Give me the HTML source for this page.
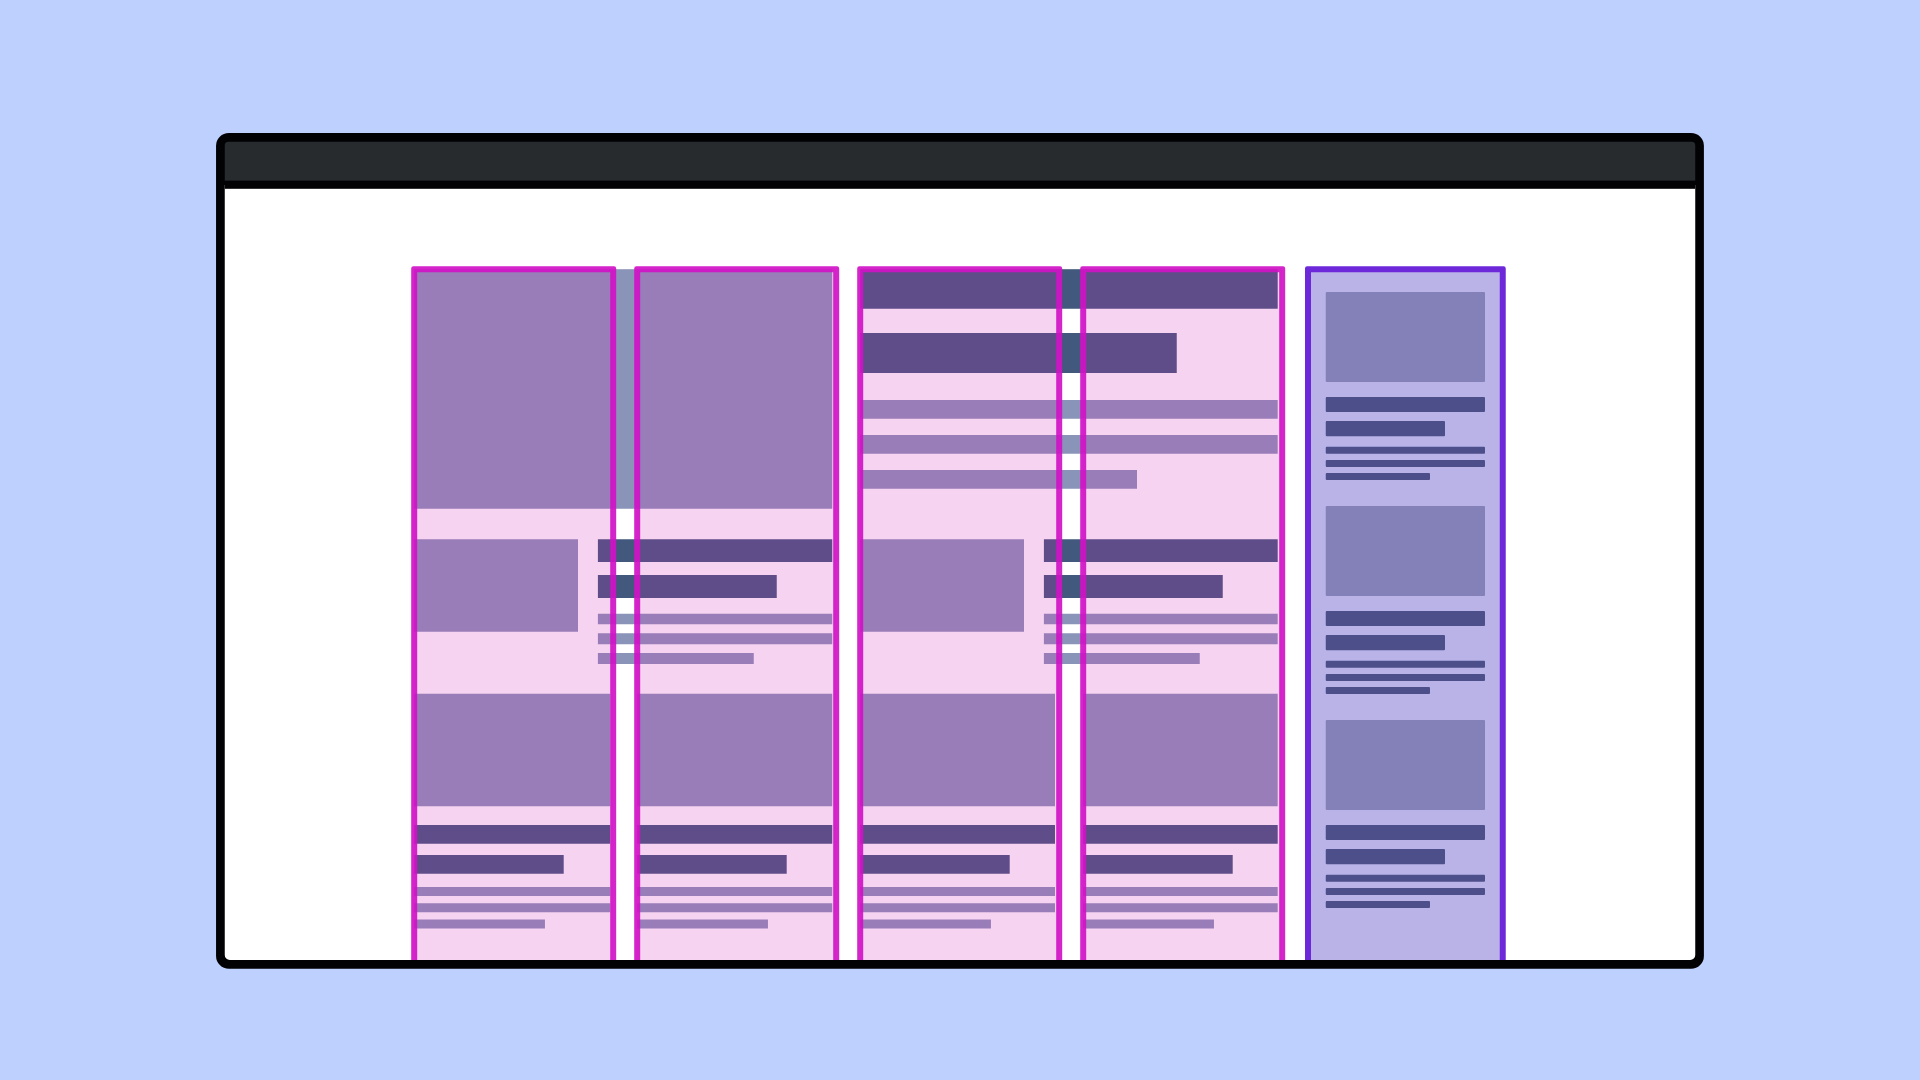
<!DOCTYPE html>
<html lang="en"><head><meta charset="utf-8"><title>Grid columns illustration</title>
<style>
html,body{margin:0;padding:0;width:1920px;height:1080px;overflow:hidden;background:#bed0fd;font-family:"Liberation Sans",sans-serif}
svg{display:block;position:absolute;left:0;top:0}
</style></head><body>
<svg width="1920" height="1080" viewBox="0 0 1920 1080">
<!-- browser window frame -->
<rect x="216.05" y="133" width="1487.85" height="835.75" rx="12.8" fill="#020205"/>
<clipPath id="inner"><path d="M224.75 145.2 a3.5 3.5 0 0 1 3.5 -3.5 H1691.75 a3.5 3.5 0 0 1 3.5 3.5 V955.05 a5 5 0 0 1 -5 5 H229.75 a5 5 0 0 1 -5 -5 Z"/></clipPath>
<g clip-path="url(#inner)">
<rect x="220" y="185" width="1480" height="780" fill="#fff"/>
<rect x="220" y="138" width="1480" height="42.8" fill="#272b2e"/>
<rect x="220" y="180.8" width="1480" height="8" fill="#020205"/>
<!-- row 1: hero image + headline block -->
<rect x="414.20" y="269.20" width="418.10" height="239.55" fill="#8a94b8"/>
<rect x="860.20" y="269.20" width="417.50" height="39.55" fill="#42587c"/>
<rect x="860.20" y="333.00" width="316.55" height="40.00" fill="#42587c"/>
<rect x="860.20" y="400.00" width="417.50" height="18.75" fill="#8a94b8"/>
<rect x="860.20" y="435.00" width="417.50" height="18.75" fill="#8a94b8"/>
<rect x="860.20" y="470.00" width="276.80" height="18.75" fill="#8a94b8"/>
<!-- row 2: two media items -->
<rect x="414.20" y="539.25" width="163.80" height="92.50" fill="#8a94b8"/>
<rect x="597.90" y="539.25" width="234.40" height="22.75" fill="#42587c"/>
<rect x="597.90" y="575.00" width="178.85" height="23.00" fill="#42587c"/>
<rect x="597.90" y="613.75" width="234.40" height="10.50" fill="#8a94b8"/>
<rect x="597.90" y="633.25" width="234.40" height="11.00" fill="#8a94b8"/>
<rect x="597.90" y="653.00" width="155.85" height="11.00" fill="#8a94b8"/>
<rect x="860.20" y="539.25" width="163.80" height="92.50" fill="#8a94b8"/>
<rect x="1043.90" y="539.25" width="233.80" height="22.75" fill="#42587c"/>
<rect x="1043.90" y="575.00" width="178.85" height="23.00" fill="#42587c"/>
<rect x="1043.90" y="613.75" width="233.80" height="10.50" fill="#8a94b8"/>
<rect x="1043.90" y="633.25" width="233.80" height="11.00" fill="#8a94b8"/>
<rect x="1043.90" y="653.00" width="155.85" height="11.00" fill="#8a94b8"/>
<!-- row 3: four cards -->
<rect x="414.20" y="693.75" width="196.10" height="112.50" fill="#8a94b8"/>
<rect x="414.20" y="825.00" width="196.10" height="18.75" fill="#42587c"/>
<rect x="414.20" y="855.00" width="149.50" height="18.75" fill="#42587c"/>
<rect x="414.20" y="887.00" width="196.10" height="9.00" fill="#8a94b8"/>
<rect x="414.20" y="903.25" width="196.10" height="9.00" fill="#8a94b8"/>
<rect x="414.20" y="919.50" width="130.75" height="9.00" fill="#8a94b8"/>
<rect x="637.20" y="693.75" width="195.10" height="112.50" fill="#8a94b8"/>
<rect x="637.20" y="825.00" width="195.10" height="18.75" fill="#42587c"/>
<rect x="637.20" y="855.00" width="149.50" height="18.75" fill="#42587c"/>
<rect x="637.20" y="887.00" width="195.10" height="9.00" fill="#8a94b8"/>
<rect x="637.20" y="903.25" width="195.10" height="9.00" fill="#8a94b8"/>
<rect x="637.20" y="919.50" width="130.75" height="9.00" fill="#8a94b8"/>
<rect x="860.20" y="693.75" width="194.80" height="112.50" fill="#8a94b8"/>
<rect x="860.20" y="825.00" width="194.80" height="18.75" fill="#42587c"/>
<rect x="860.20" y="855.00" width="149.50" height="18.75" fill="#42587c"/>
<rect x="860.20" y="887.00" width="194.80" height="9.00" fill="#8a94b8"/>
<rect x="860.20" y="903.25" width="194.80" height="9.00" fill="#8a94b8"/>
<rect x="860.20" y="919.50" width="130.75" height="9.00" fill="#8a94b8"/>
<rect x="1083.20" y="693.75" width="194.50" height="112.50" fill="#8a94b8"/>
<rect x="1083.20" y="825.00" width="194.50" height="18.75" fill="#42587c"/>
<rect x="1083.20" y="855.00" width="149.50" height="18.75" fill="#42587c"/>
<rect x="1083.20" y="887.00" width="194.50" height="9.00" fill="#8a94b8"/>
<rect x="1083.20" y="903.25" width="194.50" height="9.00" fill="#8a94b8"/>
<rect x="1083.20" y="919.50" width="130.75" height="9.00" fill="#8a94b8"/>
<!-- grid column overlays -->
<rect x="414.20" y="269.25" width="199.0" height="720" fill="#d723be" fill-opacity="0.2"/>
<path d="M413.40 266.25 H614.00 A2.2 2.2 0 0 1 616.20 268.45 V992.25 H411.20 V268.45 A2.2 2.2 0 0 1 413.40 266.25 Z M417.20 272.25 V986.25 H610.20 V272.25 Z" fill="#d012c6" fill-opacity="0.92" fill-rule="evenodd"/>
<rect x="637.20" y="269.25" width="199.0" height="720" fill="#d723be" fill-opacity="0.2"/>
<path d="M636.40 266.25 H837.00 A2.2 2.2 0 0 1 839.20 268.45 V992.25 H634.20 V268.45 A2.2 2.2 0 0 1 636.40 266.25 Z M640.20 272.25 V986.25 H833.20 V272.25 Z" fill="#d012c6" fill-opacity="0.92" fill-rule="evenodd"/>
<rect x="860.20" y="269.25" width="199.0" height="720" fill="#d723be" fill-opacity="0.2"/>
<path d="M859.40 266.25 H1060.00 A2.2 2.2 0 0 1 1062.20 268.45 V992.25 H857.20 V268.45 A2.2 2.2 0 0 1 859.40 266.25 Z M863.20 272.25 V986.25 H1056.20 V272.25 Z" fill="#d012c6" fill-opacity="0.92" fill-rule="evenodd"/>
<rect x="1083.20" y="269.25" width="199.0" height="720" fill="#d723be" fill-opacity="0.2"/>
<path d="M1082.40 266.25 H1283.00 A2.2 2.2 0 0 1 1285.20 268.45 V992.25 H1080.20 V268.45 A2.2 2.2 0 0 1 1082.40 266.25 Z M1086.20 272.25 V986.25 H1279.20 V272.25 Z" fill="#d012c6" fill-opacity="0.92" fill-rule="evenodd"/>
<!-- sidebar -->
<rect x="1308" y="269.25" width="194.75" height="720" fill="#b9b3e8"/>
<path d="M1307.20 266.25 H1503.55 A2.2 2.2 0 0 1 1505.75 268.45 V992.25 H1305.00 V268.45 A2.2 2.2 0 0 1 1307.20 266.25 Z M1311.00 272.25 V986.25 H1499.75 V272.25 Z" fill="#6d28d9" fill-opacity="1" fill-rule="evenodd"/>
<rect x="1325.75" y="292.00" width="159.25" height="90.00" fill="#8480b8" rx="1"/>
<rect x="1325.75" y="397.00" width="159.25" height="15.00" fill="#4d4f8b" rx="1"/>
<rect x="1325.75" y="421.00" width="119.25" height="15.25" fill="#4d4f8b" rx="1"/>
<rect x="1325.75" y="446.75" width="159.25" height="7.00" fill="#4d4f8b" rx="1"/>
<rect x="1325.75" y="460.00" width="159.25" height="7.00" fill="#4d4f8b" rx="1"/>
<rect x="1325.75" y="473.00" width="104.25" height="7.00" fill="#4d4f8b" rx="1"/>
<rect x="1325.75" y="506.00" width="159.25" height="90.00" fill="#8480b8" rx="1"/>
<rect x="1325.75" y="611.00" width="159.25" height="15.00" fill="#4d4f8b" rx="1"/>
<rect x="1325.75" y="635.00" width="119.25" height="15.25" fill="#4d4f8b" rx="1"/>
<rect x="1325.75" y="660.75" width="159.25" height="7.00" fill="#4d4f8b" rx="1"/>
<rect x="1325.75" y="674.00" width="159.25" height="7.00" fill="#4d4f8b" rx="1"/>
<rect x="1325.75" y="687.00" width="104.25" height="7.00" fill="#4d4f8b" rx="1"/>
<rect x="1325.75" y="720.00" width="159.25" height="90.00" fill="#8480b8" rx="1"/>
<rect x="1325.75" y="825.00" width="159.25" height="15.00" fill="#4d4f8b" rx="1"/>
<rect x="1325.75" y="849.00" width="119.25" height="15.25" fill="#4d4f8b" rx="1"/>
<rect x="1325.75" y="874.75" width="159.25" height="7.00" fill="#4d4f8b" rx="1"/>
<rect x="1325.75" y="888.00" width="159.25" height="7.00" fill="#4d4f8b" rx="1"/>
<rect x="1325.75" y="901.00" width="104.25" height="7.00" fill="#4d4f8b" rx="1"/>
</g>
</svg>
</body></html>
